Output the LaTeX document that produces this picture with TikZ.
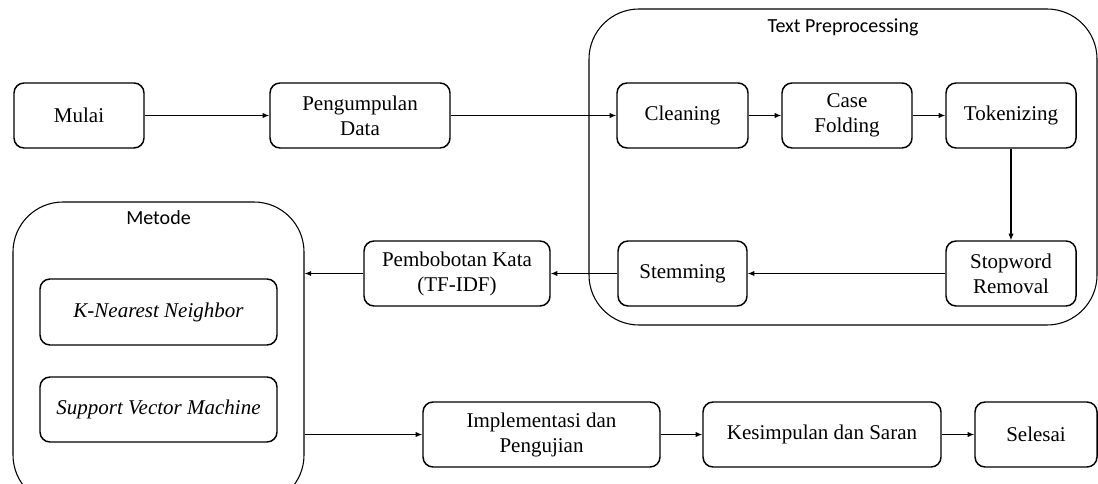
\documentclass[tikz,border=0pt]{standalone}
\usepackage{fontspec}
\setmainfont{Liberation Serif}
\newfontfamily\labelfont{Carlito}
\usepackage{tikz}
\usetikzlibrary{arrows.meta, positioning}

\begin{document}
\begin{tikzpicture}[x=0.75pt,y=-0.75pt,
    every node/.style={font=\fontsize{15.75}{18.75}\selectfont},
    stepbox/.style={draw, line width=1.1pt, rounded corners=7.5pt, align=center,
        minimum height=48.75pt, inner sep=2pt},
    groupbox/.style={draw, line width=0.8pt, rounded corners=37.5pt},
    grouplabel/.style={font=\labelfont\fontsize{15}{18}\selectfont},
    arr/.style={-{Latex[length=5pt,width=4pt]}, line width=0.8pt}]

    \useasboundingbox (0,0) rectangle (1098,484);
    \clip (0,0) rectangle (1098,484);

    % groups
    \node[groupbox, minimum width=381pt, minimum height=237pt] (prep) at (843,167) {};
    \node[grouplabel] (preplab) at (843,27) {Text Preprocessing};
    \node[groupbox, minimum width=218.25pt, minimum height=227.25pt] (metode) at (158.5,353.5) {};
    \node[grouplabel] (metodelab) at (158.5,218) {Metode};

    % first row
    \node[stepbox, minimum width=97.5pt]  (mulai)    at (79,115.5)    {Mulai};
    \node[stepbox, minimum width=135pt]   (kumpul)   at (360,115.5)   {Pengumpulan\\Data};
    \node[stepbox, minimum width=98.25pt] (clean)    at (682.5,115.5) {Cleaning};
    \node[stepbox, minimum width=97.5pt]  (casefold) at (847,115.5)   {Case\\Folding};
    \node[stepbox, minimum width=97.5pt]  (token)    at (1011,115.5)  {Tokenizing};

    % second row
    \node[stepbox, minimum width=97.5pt]  (stopword) at (1011,273.5)  {Stopword\\Removal};
    \node[stepbox, minimum width=96.75pt] (stem)     at (682.5,273.5) {Stemming};
    \node[stepbox, minimum width=139.5pt] (bobot)    at (457,273.5)   {Pembobotan Kata\\(TF-IDF)};

    \node[stepbox, minimum width=177.75pt, minimum height=49.5pt] (knn) at (158.5,312) {\itshape K-Nearest Neighbor};
    \node[stepbox, minimum width=177.75pt] (svm) at (158.5,409.5) {\itshape Support Vector Machine};

    % last row
    \node[stepbox, minimum width=177.75pt] (impl)    at (541.5,434.5) {Implementasi dan\\Pengujian};
    \node[stepbox, minimum width=178.5pt]  (simpul)  at (822,434.5)   {Kesimpulan dan Saran};
    \node[stepbox, minimum width=91.5pt]   (selesai) at (1036,434.5)  {Selesai};

    \draw[arr] (mulai) -- (kumpul);
    \draw[arr] (kumpul) -- (clean);
    \draw[arr] (clean) -- (casefold);
    \draw[arr] (casefold) -- (token);
    \draw[arr] (token) -- (stopword);
    \draw[arr] (stopword) -- (stem);
    \draw[arr] (stem) -- (bobot);
    \draw[arr] (bobot.west) -- (bobot.west -| metode.east);
    \draw[arr] (impl.west -| metode.east) -- (impl.west);
    \draw[arr] (impl) -- (simpul);
    \draw[arr] (simpul) -- (selesai);

\end{tikzpicture}
\end{document}
